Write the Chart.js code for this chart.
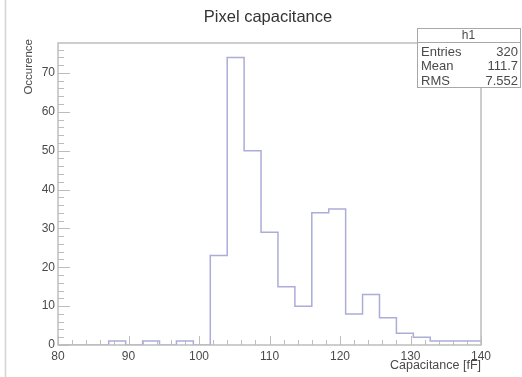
<!DOCTYPE html>
<html>
<head>
<meta charset="utf-8">
<script src="https://cdn.jsdelivr.net/npm/chart.js@4/dist/chart.umd.min.js"></script>
<style>
  html, body { margin: 0; padding: 0; background: #ffffff; }
  #wrap { width: 522px; height: 377px; position: relative; }
</style>
</head>
<body>
<div id="wrap"><canvas id="c" width="522" height="377"></canvas></div>
<script>
// ---- data ----
const binEdges = [80, 82.4, 84.8, 87.2, 89.6, 92, 94.4, 96.8, 99.2, 101.6, 104, 106.4, 108.8,
                  111.2, 113.6, 116, 118.4, 120.8, 123.2, 125.6, 128, 130.4, 132.8, 135.2, 137.6, 140];
const binCounts = [0, 0, 0, 1, 0, 1, 0, 1, 0, 23, 74, 50, 29, 15, 10, 34, 35, 8, 13, 7, 3, 2, 1, 1, 1];
const statLabels = ["Entries", "Mean", "RMS"];
const statValues = ["320", "111.7", "7.552"];
const histName = "h1";
const chartTitle = "Pixel capacitance";
const xTitle = "Capacitance [fF]";
const yTitle = "Occurence";
const xRange = [80, 140];
const yRange = [0, 77.7];

// build step points (one per bin low edge, plus closing point)
const points = binCounts.map((c, i) => ({ x: binEdges[i], y: c }));
points.push({ x: binEdges[binEdges.length - 1], y: binCounts[binCounts.length - 1] });

const FONT = "'Liberation Sans', Arial, sans-serif";
const FRAME = "#bdbdbd";
const TEXT = "#4a4a4a";

const decor = {
  id: 'rootDecor',
  beforeDraw(chart) {
    const ctx = chart.ctx;
    ctx.save();
    ctx.fillStyle = '#ffffff';
    ctx.fillRect(0, 0, chart.width, chart.height);
    ctx.strokeStyle = '#d4d4d4';
    ctx.lineWidth = 1.5;
    ctx.beginPath(); ctx.moveTo(5.5, 0); ctx.lineTo(5.5, chart.height); ctx.stroke();
    ctx.restore();
  },
  afterDraw(chart) {
    const ctx = chart.ctx;
    const a = chart.chartArea;
    const xs = chart.scales.x, ys = chart.scales.y;
    ctx.save();
    // frame
    ctx.strokeStyle = FRAME;
    ctx.lineWidth = 1.5;
    ctx.strokeRect(a.left, a.top, a.right - a.left, a.bottom - a.top);
    // ticks (inside)
    ctx.lineWidth = 1;
    ctx.beginPath();
    for (let v = 0; v <= yRange[1]; v += 2) {
      const y = Math.round(ys.getPixelForValue(v)) + 0.5;
      const len = (v % 10 === 0) ? 12 : 6;
      ctx.moveTo(a.left, y); ctx.lineTo(a.left + len, y);
    }
    for (let v = xRange[0]; v <= xRange[1]; v += 2) {
      const x = Math.round(xs.getPixelForValue(v)) + 0.5;
      const len = (v % 10 === 0) ? 9 : 5;
      ctx.moveTo(x, a.bottom); ctx.lineTo(x, a.bottom - len);
    }
    ctx.stroke();

    // title
    ctx.fillStyle = "#333";
    ctx.font = "16.5px " + FONT;
    ctx.textAlign = 'center';
    ctx.textBaseline = 'middle';
    ctx.fillText(chartTitle, 268, 17);

    // x title (right aligned at axis end)
    ctx.fillStyle = TEXT;
    ctx.font = "12.5px " + FONT;
    ctx.textAlign = 'right';
    ctx.fillText(xTitle, a.right, 366);

    // y title (rotated, aligned at axis top)
    ctx.save();
    ctx.translate(29, a.top - 4);
    ctx.rotate(-Math.PI / 2);
    ctx.font = "11.5px " + FONT;
    ctx.textAlign = 'right';
    ctx.textBaseline = 'middle';
    ctx.fillText(yTitle, 0, 0);
    ctx.restore();

    // stats box
    const bx = 417, by = 28, bw = 103, bh = 59;
    ctx.fillStyle = '#ffffff';
    ctx.fillRect(bx, by, bw, bh);
    ctx.strokeStyle = '#a8a8a8';
    ctx.lineWidth = 1;
    ctx.strokeRect(bx + 0.5, by + 0.5, bw, bh);
    ctx.beginPath(); ctx.moveTo(bx, by + 14.5); ctx.lineTo(bx + bw, by + 14.5); ctx.stroke();
    ctx.fillStyle = TEXT;
    ctx.font = "12px " + FONT;
    ctx.textAlign = 'center';
    ctx.textBaseline = 'middle';
    ctx.fillText(histName, bx + bw / 2, by + 8);
    ctx.font = "13px " + FONT;
    statLabels.forEach((lab, i) => {
      const y = by + 24 + i * 14.5;
      ctx.textAlign = 'left';
      ctx.fillText(lab, bx + 4, y);
      ctx.textAlign = 'right';
      ctx.fillText(statValues[i], bx + bw - 2, y);
    });
    ctx.restore();
  }
};

new Chart(document.getElementById('c'), {
  type: 'line',
  data: {
    datasets: [{
      label: histName,
      data: points,
      stepped: 'before',
      borderColor: 'rgb(172,172,218)',
      borderWidth: 1.5,
      pointRadius: 0,
      fill: false,
      tension: 0
    }]
  },
  options: {
    responsive: false,
    devicePixelRatio: 1,
    animation: false,
    layout: { padding: { top: 43, right: 41, left: 0, bottom: 0 } },
    plugins: {
      legend: { display: false },
      title: { display: false },
      tooltip: { enabled: false }
    },
    scales: {
      x: {
        type: 'linear',
        min: xRange[0], max: xRange[1],
        border: { display: false },
        grid: { display: false, drawTicks: false },
        ticks: {
          stepSize: 10, includeBounds: false, maxRotation: 0, autoSkip: false,
          padding: 4, color: TEXT, font: { family: FONT, size: 12 }
        },
        afterFit(s) { s.height = 32; }
      },
      y: {
        type: 'linear',
        min: yRange[0], max: yRange[1],
        border: { display: false },
        grid: { display: false, drawTicks: false },
        ticks: {
          stepSize: 10, includeBounds: false,
          padding: 3, color: TEXT, font: { family: FONT, size: 12 }
        },
        afterFit(s) { s.width = 58; }
      }
    }
  },
  plugins: [decor]
});
</script>
</body>
</html>
